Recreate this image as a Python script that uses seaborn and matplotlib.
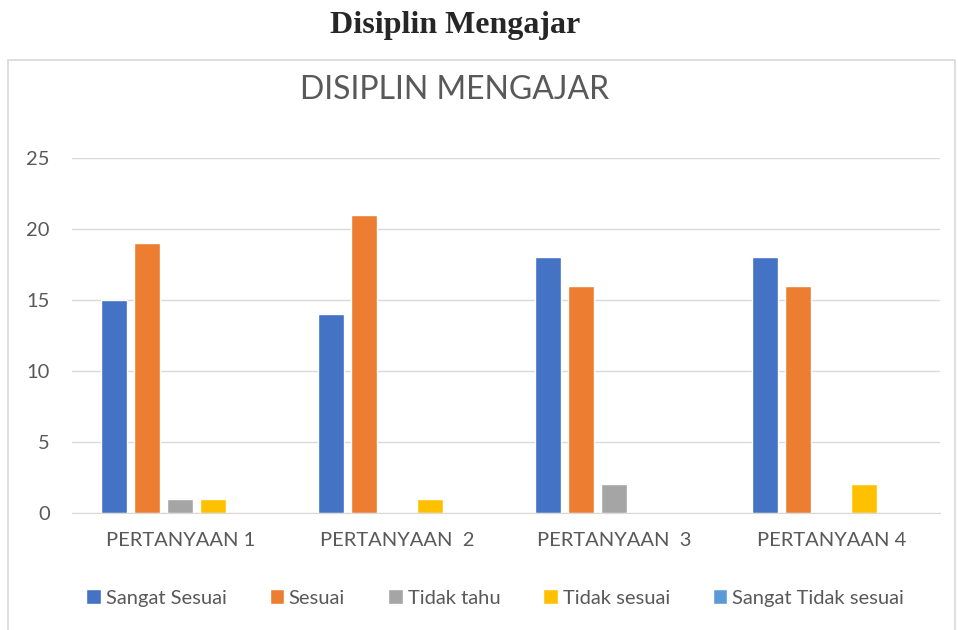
import pandas as pd
import matplotlib.pyplot as plt
import seaborn as sns
from matplotlib.patches import Rectangle

# Data
pertanyaan = ["PERTANYAAN 1", "PERTANYAAN  2", "PERTANYAAN  3", "PERTANYAAN 4"]
kategori = ["Sangat Sesuai", "Sesuai", "Tidak tahu", "Tidak sesuai", "Sangat Tidak sesuai"]
sangat_sesuai = [15, 14, 18, 18]
sesuai = [19, 21, 16, 16]
tidak_tahu = [1, 0, 2, 0]
tidak_sesuai = [1, 1, 0, 2]
sangat_tidak_sesuai = [0, 0, 0, 0]
warna = ["#4472C4", "#ED7D31", "#A5A5A5", "#FFC000", "#5B9BD5"]

nilai = [sangat_sesuai, sesuai, tidak_tahu, tidak_sesuai, sangat_tidak_sesuai]
rows = []
for k, vals in zip(kategori, nilai):
    for p, v in zip(pertanyaan, vals):
        rows.append({"Pertanyaan": p, "Kategori": k, "Jumlah": v})
df = pd.DataFrame(rows)

sns.set_style("white")
plt.rcParams["font.family"] = ["Lato", "DejaVu Sans"]

fig = plt.figure(figsize=(9.58, 6.30), dpi=100)
ax = fig.add_axes([0.075, 0.186, 0.906, 0.563])

sns.barplot(data=df, x="Pertanyaan", y="Jumlah", hue="Kategori",
            hue_order=kategori, palette=warna, width=0.76, gap=0.21,
            saturation=1, ax=ax)

ax.set_ylim(0, 25)
ax.set_yticks(range(0, 26, 5))
ax.yaxis.grid(True, color="#d9d9d9", linewidth=1)
ax.set_axisbelow(True)
for s in ["top", "right", "left"]:
    ax.spines[s].set_visible(False)
ax.spines["bottom"].set_color("#d9d9d9")
ax.tick_params(axis="both", length=0, labelsize=14.5, colors="#595959", pad=14)
ax.tick_params(axis="y", pad=16)
ax.set_xlabel("")
ax.set_ylabel("")

ax.legend(loc="center", bbox_to_anchor=(0.517, 1 - 598 / 630), bbox_transform=fig.transFigure,
          ncol=5, frameon=False, fontsize=14.5, labelcolor="#595959",
          handlelength=0.7, handleheight=0.7, handletextpad=0.25, columnspacing=2.15)

# Bingkai grafik
fig.patches.append(Rectangle((8 / 958, -0.05), 947 / 958, 1.05 - 60 / 630, transform=fig.transFigure,
                             fill=False, edgecolor="#d9d9d9", linewidth=1.2))

fig.text(455 / 958, 1 - 90 / 630, "DISIPLIN MENGAJAR", ha="center", va="center",
         fontsize=23, color="#595959")
fig.text(455 / 958, 1 - 25 / 630, "Disiplin Mengajar", ha="center", va="center",
         fontsize=23, fontweight="bold", family=["Liberation Serif", "DejaVu Serif"])

fig.savefig("out.png", dpi=100)
